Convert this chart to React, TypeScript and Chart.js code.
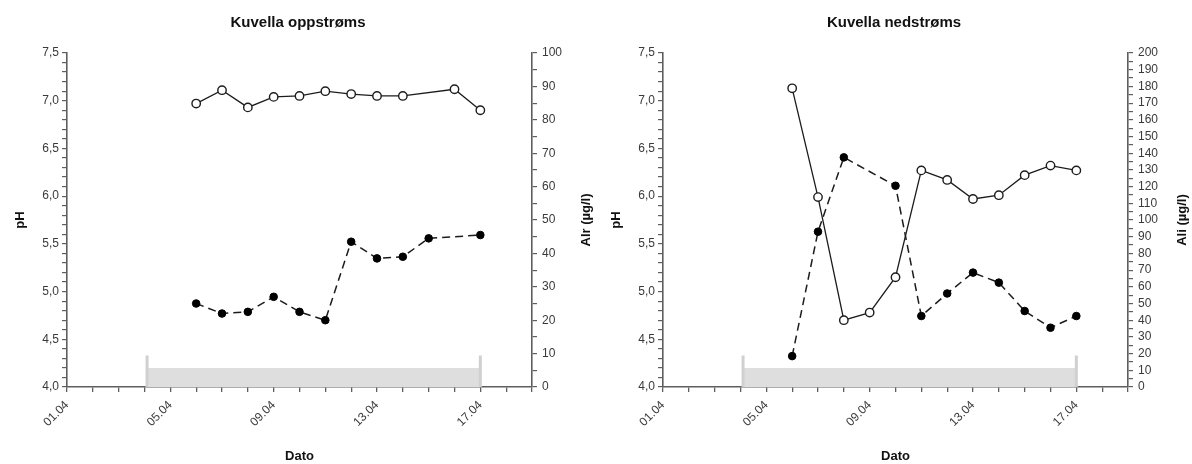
import React, { useEffect, useRef } from "react";
import { Chart, registerables } from "chart.js";

Chart.register(...registerables);

// ---- data ----
const monthLabel = "04";
const dayMin = 1;
const dayMax = 19;
const labeledDays = [1, 5, 9, 13, 17];

// Kuvella oppstrøms
const upTitle = "Kuvella oppstrøms";
const upPhDays = [6, 7, 8, 9, 10, 11, 12, 13, 14, 16, 17];
const upPh = [6.97, 7.11, 6.93, 7.04, 7.05, 7.1, 7.07, 7.05, 7.05, 7.12, 6.9];
const upAlDays = [6, 7, 8, 9, 10, 11, 12, 13, 14, 15, 17];
const upAlr = [25, 22, 22.5, 27, 22.5, 20, 43.5, 38.5, 39, 44.5, 45.5];
const upAlTitle = "Alr (µg/l)";
const upAlMax = 100;

// Kuvella nedstrøms
const downTitle = "Kuvella nedstrøms";
const downPhDays = [6, 7, 8, 9, 10, 11, 12, 13, 14, 15, 16, 17];
const downPh = [7.13, 5.99, 4.7, 4.78, 5.15, 6.27, 6.17, 5.97, 6.01, 6.22, 6.32, 6.27];
const downAlDays = [6, 7, 8, 10, 11, 12, 13, 14, 15, 16, 17];
const downAli = [18.5, 93, 137.5, 120.5, 42.5, 56, 68.5, 62.5, 45.5, 35.5, 42.5];
const downAlTitle = "Ali (µg/l)";
const downAlMax = 200;

// period marker (grey band), on the pH axis
const periodStart = 4.1;
const periodEnd = 17;
const periodLevel = 4.2;
const periodMarkerTop = 4.33;

const phMin = 4.0;
const phMax = 7.5;

// ---- styles ----
const FONT = "'Liberation Sans', Arial, Helvetica, sans-serif";
const AXIS_COLOR = "#5e5e5e";
const TICK_COLOR = "#3a3a3a";

function fmtDay(d: number) {
  return String(d).padStart(2, "0") + "." + monthLabel;
}

function pts(xs: number[], ys: number[]) {
  return xs.map((x, i) => ({ x, y: ys[i] }));
}

// Right-axis title reading bottom-to-top (like the left one)
const rightTitlePlugin = {
  id: "rightTitle",
  afterDraw(chart: any, _args: any, opts: any) {
    const { ctx, chartArea } = chart;
    ctx.save();
    ctx.translate(chart.width - 10, (chartArea.top + chartArea.bottom) / 2);
    ctx.rotate(-Math.PI / 2);
    ctx.textAlign = "center";
    ctx.textBaseline = "middle";
    ctx.font = `bold 13px ${FONT}`;
    ctx.fillStyle = "#111";
    ctx.fillText(opts.text, 0, 0);
    ctx.restore();
  },
};

function makeConfig(title: string, phDays: number[], ph: number[], alDays: number[], al: number[], alTitle: string, alMax: number): any {
  return {
    type: "line",
    plugins: [rightTitlePlugin],
    data: {
      datasets: [
        {
          label: "pH",
          data: pts(phDays, ph),
          yAxisID: "yPh",
          borderColor: "#1c1c1c",
          borderWidth: 1.3,
          pointRadius: 4.2,
          pointBorderWidth: 1.4,
          pointBackgroundColor: "#ffffff",
          pointBorderColor: "#1c1c1c",
          fill: false,
          order: 0,
        },
        {
          label: alTitle,
          data: pts(alDays, al),
          yAxisID: "yAl",
          borderColor: "#1c1c1c",
          borderWidth: 1.5,
          borderDash: [8, 5],
          pointRadius: 3.8,
          pointBorderWidth: 1,
          pointBackgroundColor: "#000000",
          pointBorderColor: "#000000",
          fill: false,
          order: 1,
        },
        {
          label: "periode",
          data: [
            { x: periodStart, y: periodLevel },
            { x: periodEnd, y: periodLevel },
          ],
          yAxisID: "yPh",
          borderWidth: 0,
          borderColor: "rgba(0,0,0,0)",
          backgroundColor: "#dedede",
          pointRadius: 0,
          fill: "start",
          order: 10,
        },
        {
          label: "start",
          data: [
            { x: periodStart, y: phMin },
            { x: periodStart, y: periodMarkerTop },
          ],
          yAxisID: "yPh",
          borderColor: "#d0d0d0",
          borderWidth: 3,
          pointRadius: 0,
          fill: false,
          order: 9,
        },
        {
          label: "slutt",
          data: [
            { x: periodEnd, y: phMin },
            { x: periodEnd, y: periodMarkerTop },
          ],
          yAxisID: "yPh",
          borderColor: "#d0d0d0",
          borderWidth: 3,
          pointRadius: 0,
          fill: false,
          order: 9,
        },
      ],
    },
    options: {
      responsive: false,
      animation: false,
      layout: { padding: 0 },
      plugins: {
        legend: { display: false },
        tooltip: { enabled: false },
        rightTitle: { text: alTitle },
        title: {
          display: true,
          text: title,
          color: "#111",
          font: { family: FONT, size: 15, weight: "bold" },
          padding: { top: 14, bottom: 21 },
        },
      },
      scales: {
        x: {
          type: "linear",
          position: "bottom",
          min: dayMin,
          max: dayMax,
          afterFit: (s: any) => {
            s.height = 77;
          },
          border: { display: true, color: AXIS_COLOR, width: 1.6 },
          grid: { drawOnChartArea: false, drawTicks: true, tickLength: 5, color: AXIS_COLOR, lineWidth: 1.3 },
          ticks: {
            stepSize: 1,
            autoSkip: false,
            minRotation: 45,
            maxRotation: 45,
            padding: 6,
            color: TICK_COLOR,
            font: { family: FONT, size: 12 },
            callback: (v: any) => (labeledDays.includes(Number(v)) ? fmtDay(Number(v)) : ""),
          },
          title: {
            display: true,
            text: "Dato",
            color: "#111",
            font: { family: FONT, size: 13, weight: "bold" },
            padding: { top: 0, bottom: 0 },
          },
        },
        yPh: {
          type: "linear",
          position: "left",
          min: phMin,
          max: phMax,
          afterFit: (s: any) => {
            s.width = 67;
          },
          border: { display: true, color: AXIS_COLOR, width: 1.6 },
          grid: { drawOnChartArea: false, drawTicks: true, tickLength: 5, color: AXIS_COLOR, lineWidth: 1.2 },
          ticks: {
            stepSize: 0.1,
            autoSkip: false,
            padding: 3,
            color: TICK_COLOR,
            font: { family: FONT, size: 12 },
            callback: (v: any) => {
              const n = Number(v);
              return Math.abs(n * 2 - Math.round(n * 2)) < 1e-6 ? n.toFixed(1).replace(".", ",") : "";
            },
          },
          title: {
            display: true,
            text: "pH",
            color: "#111",
            font: { family: FONT, size: 13, weight: "bold" },
            padding: { top: 13, bottom: 0 },
          },
        },
        yAl: {
          type: "linear",
          position: "right",
          min: 0,
          max: alMax,
          afterFit: (s: any) => {
            s.width = 64;
          },
          border: { display: true, color: AXIS_COLOR, width: 1.6 },
          grid: { drawOnChartArea: false, drawTicks: true, tickLength: 5, color: AXIS_COLOR, lineWidth: 1.2 },
          ticks: {
            stepSize: 5,
            autoSkip: false,
            padding: 5,
            color: TICK_COLOR,
            font: { family: FONT, size: 12 },
            callback: (v: any) => {
              const n = Number(v);
              return Math.abs(n / 10 - Math.round(n / 10)) < 1e-6 ? String(Math.round(n)) : "";
            },
          },
          title: { display: false },
        },
      },
    },
  };
}

function Panel(props: { config: any }) {
  const ref = useRef<HTMLCanvasElement | null>(null);
  useEffect(() => {
    if (!ref.current) return;
    const chart = new Chart(ref.current, props.config);
    return () => chart.destroy();
  }, []);
  return <canvas ref={ref} width={596} height={464} style={{ display: "block", width: 596, height: 464 }} />;
}

export default function App() {
  const upConfig = makeConfig(upTitle, upPhDays, upPh, upAlDays, upAlr, upAlTitle, upAlMax);
  const downConfig = makeConfig(downTitle, downPhDays, downPh, downAlDays, downAli, downAlTitle, downAlMax);
  return (
    <div style={{ position: "absolute", left: 0, top: 0, width: 1192, height: 464, display: "flex", background: "#fff" }}>
      <Panel config={upConfig} />
      <Panel config={downConfig} />
    </div>
  );
}
